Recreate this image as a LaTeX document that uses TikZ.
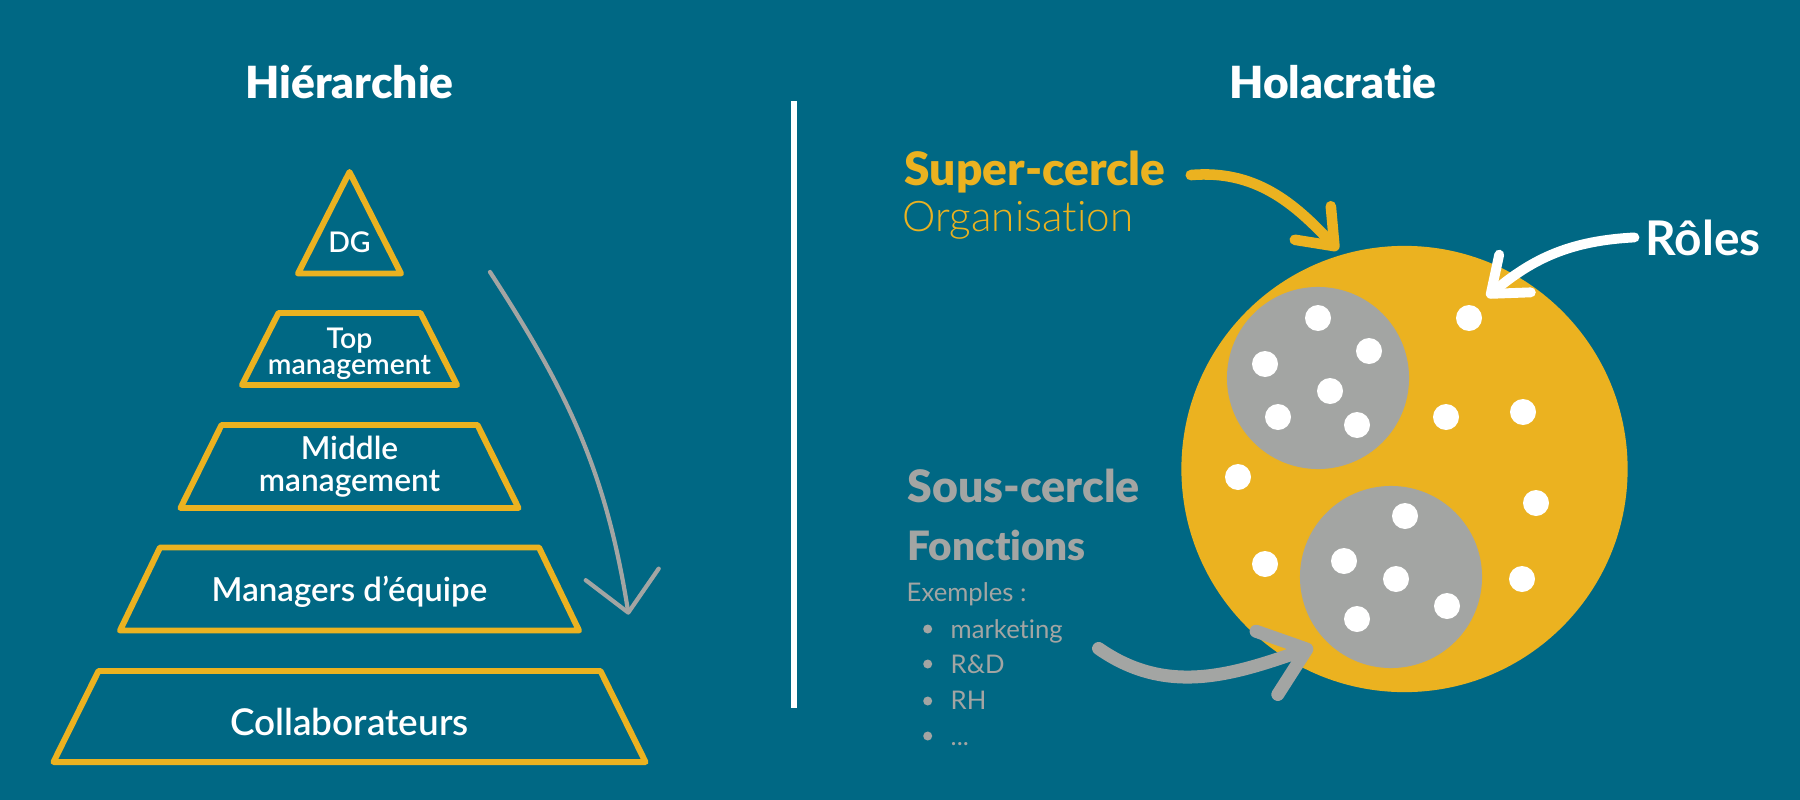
\documentclass[tikz,border=0pt]{standalone}
\usepackage{fontspec}
\setmainfont{Lato}[Ligatures=NoCommon]
\newfontfamily\blackfont{Lato Black}[Ligatures=NoCommon]
\newfontfamily\semifont{Lato Semibold}[Ligatures=NoCommon]
\newfontfamily\lightfont{Lato Light}[Ligatures=NoCommon]
\usetikzlibrary{arrows.meta}
\definecolor{ocean}{RGB}{0,104,132}
\definecolor{gold}{RGB}{235,178,32}
\definecolor{pebble}{RGB}{163,165,163}
\newcommand{\fsz}[1]{\fontsize{#1}{#1}\selectfont}

\begin{document}
\begin{tikzpicture}[x=0.01cm,y=-0.01cm,
    level/.style={draw=gold,line width=1.7pt,line join=round},
    lbl/.style={text=white,inner sep=0pt,anchor=base},
    side/.style={inner sep=0pt,anchor=base west},
    role/.style={fill=white}]
  \fill[ocean] (0,0) rectangle (1800,800);
  \useasboundingbox (0,0) rectangle (1800,800);

  % titles and divider
  \node[lbl,font=\blackfont\fsz{12.6pt}] (hier) at (349.5,98) {Hiérarchie};
  \node[lbl,font=\blackfont\fsz{12.6pt}] (hola) at (1333,98) {Holacratie};
  \draw[white,line width=1.5pt] (794,101) -- (794,708);

  % pyramid
  \draw[level] (349.5,172) -- (401,273.5) -- (298,273.5) -- cycle;
  \foreach \ya/\yb/\wa/\wb in {313/385/71/107.5,425/508/128/169,547.5/630.5/189.5/229.5,671/762/251/296}
    \draw[level] ({349.5-\wa},\ya) -- ({349.5+\wa},\ya) -- ({349.5+\wb},\yb) -- ({349.5-\wb},\yb) -- cycle;
  \node[lbl,font=\semifont\fsz{8.1pt}] (dg) at (349.5,252) {DG};
  \node[lbl,font=\semifont\fsz{8.1pt}] (top) at (349.5,348.5) {Top};
  \node[lbl,font=\semifont\fsz{8.1pt}] (topm) at (349.5,374) {management};
  \node[lbl,font=\semifont\fsz{9pt}] (mid) at (349.5,459) {Middle};
  \node[lbl,font=\semifont\fsz{9pt}] (midm) at (349.5,491.6) {management};
  \node[lbl,font=\semifont\fsz{9.4pt}] (equipe) at (349.5,601) {Managers d’équipe};
  \node[lbl,font=\semifont\fsz{10.5pt}] (collab) at (349.5,735) {Collaborateurs};
  \coordinate (flowstart) at (490,272);
  \coordinate (flowend) at (628.6,614.7);
  \draw[pebble,line width=1.2pt,line cap=round,-{Straight Barb[length=11pt,width=21pt,round]}]
    (flowstart) to[out=-57,in=99] (flowend);

  % circles
  \node[circle,fill=gold,minimum size=4.46cm,inner sep=0pt] (orga) at (1404.5,469) {};
  \node[circle,fill=pebble,minimum size=1.82cm,inner sep=0pt] (sub1) at (1318,378) {};
  \node[circle,fill=pebble,minimum size=1.82cm,inner sep=0pt] (sub2) at (1391,577) {};
  \foreach \p in {(1318,318),(1369,351),(1265,364),(1330,391),(1278,417),(1357,425),
      (1469,318),(1446,417),(1523,412),(1238,477),(1536,503),(1265,564),(1522,579),
      (1405,516),(1344,561),(1396,579),(1447,606),(1357,619)}
    \fill[role] \p circle (13);

  % labels on the right
  \node[side,text=gold,font=\blackfont\fsz{13.1pt}] (super) at (904,185) {Super-cercle};
  \node[side,text=gold,font=\lightfont\fsz{12pt}] (orgname) at (902,231.7) {Organisation};
  \node[side,text=white,font=\bfseries\fsz{13.6pt}] (roles) at (1645,255) {Rôles};
  \node[side,text=pebble,font=\blackfont\fsz{12.7pt}] (sous) at (907,502.7) {Sous-cercle};
  \node[side,text=pebble,font=\blackfont\fsz{11.5pt}] (fonc) at (907,560.7) {Fonctions};
  \node[side,text=pebble,font=\fsz{7.3pt}] (ex) at (906,601.7) {Exemples :};
  \node[side,text=pebble,font=\fsz{7.3pt}] (mkt) at (950,638) {marketing};
  \node[side,text=pebble,font=\fsz{7.3pt}] (rd) at (950,673) {R\&D};
  \node[side,text=pebble,font=\fsz{7.3pt}] (rh) at (950,709) {RH};
  \node[side,text=pebble,font=\fsz{7.3pt}] (etc) at (950,745) {...};
  \foreach \y in {629,664,701,736}
    \fill[pebble] (927.7,\y) circle (4.5);

  % arrows
  \coordinate (superend) at (1338,250);
  \coordinate (rolesend) at (1487,297);
  \coordinate (sousend) at (1313,647);
  \draw[gold,line width=3pt,line cap=round,-{Straight Barb[length=9pt,width=14pt,round]}]
    ([xshift=7pt,yshift=-1pt]super.east) to[out=5,in=133] (superend);
  \draw[white,line width=2.8pt,line cap=round,-{Straight Barb[length=9pt,width=14pt,round]}]
    ([xshift=-3pt]roles.west) to[out=183,in=40] (rolesend);
  \draw[pebble,line width=3.7pt,line cap=round,-{Straight Barb[length=12pt,width=19pt,round]}]
    ([xshift=10pt,yshift=-5pt]mkt.east) to[out=-35,in=199] (sousend);
\end{tikzpicture}
\end{document}
